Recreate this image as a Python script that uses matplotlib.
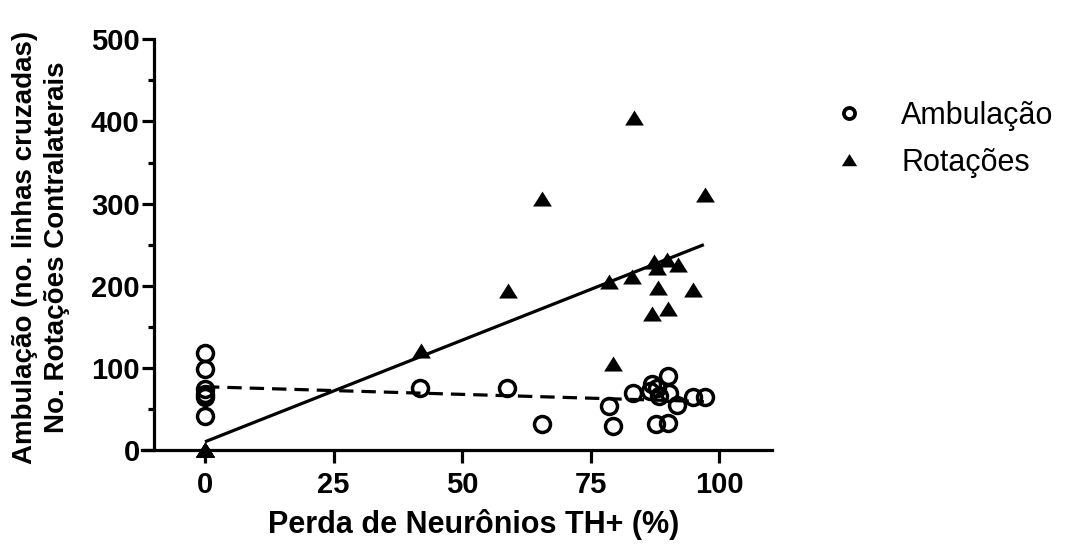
import matplotlib
matplotlib.use("Agg")
import matplotlib.pyplot as plt
from matplotlib.lines import Line2D
from matplotlib.ticker import MultipleLocator

plt.rcParams['font.family'] = ['Liberation Sans', 'DejaVu Sans']

# Ambulação (open circles)
amb_x = [0, 0, 0, 0, 0, 0, 41.9, 58.8, 65.5, 78.6, 79.4, 83.3, 86.5, 87.0, 87.8,
         88.2, 90.1, 90.3, 87.7, 90.0, 91.8, 94.9, 97.2]
amb_y = [118, 99, 74, 68, 64, 42, 75, 75, 32, 54, 29, 69, 72, 80, 76,
         66, 90, 70, 32, 33, 55, 65, 64]

# Rotações (filled triangles)
rot_x = [0, 0, 0, 0, 0, 0, 42.0, 58.9, 65.5, 83.5, 97.2, 78.6, 79.4, 83.1, 87.4,
         87.9, 89.9, 91.9, 88.0, 94.9, 87.0, 90.1]
rot_y = [0, 0, 0, 0, 0, 0, 120, 194, 306, 404, 310, 205, 105, 211, 229,
         221, 231, 225, 197, 195, 165, 172]

# regression lines
rot_fit_x = [0, 97]
rot_fit_y = [10, 250]
amb_fit_x = [0, 97]
amb_fit_y = [77, 59]

xticks = [0, 25, 50, 75, 100]
yticks = [0, 100, 200, 300, 400, 500]

W, H = 1070, 546
fig = plt.figure(figsize=(W / 100, H / 100), dpi=100)
ax = fig.add_axes([142 / W, (H - 450) / H, 630 / W, 410.7 / H])
ax.set_xlim(-12.25, 110.25)
ax.set_ylim(0, 500)

tri = [(-1, -0.75), (1, -0.75), (0, 0.85)]

ax.plot(rot_fit_x, rot_fit_y, color='black', lw=2.3, solid_capstyle='butt', zorder=2)
ax.plot(amb_fit_x, amb_fit_y, color='black', lw=2.3, dashes=(4.5, 2.5), zorder=2)
ax.plot(amb_x, amb_y, linestyle='none', marker='o', ms=11.5, mew=2.5,
        mec='black', mfc='none', clip_on=False, zorder=3)
ax.plot(rot_x, rot_y, linestyle='none', marker=tri, ms=13.5, mew=0,
        color='black', clip_on=False, zorder=3)

for s in ['top', 'right']:
    ax.spines[s].set_visible(False)
ax.spines['left'].set_position(('data', -10))
ax.spines['left'].set_bounds(0, 500)
for s in ['left', 'bottom']:
    ax.spines[s].set_linewidth(2.3)

ax.set_xticks(xticks)
ax.set_yticks(yticks)
ax.yaxis.set_minor_locator(MultipleLocator(50))
ax.tick_params(axis='both', which='major', length=9, width=2.3, direction='out',
               labelsize=21)
ax.tick_params(axis='y', which='minor', length=4.5, width=2.3)
ax.tick_params(axis='x', pad=6)
ax.tick_params(axis='y', pad=1)
for lab in ax.get_xticklabels() + ax.get_yticklabels():
    lab.set_fontweight('bold')

fig.text(474 / W, 1 - 524 / H, 'Perda de Neurônios TH+ (%)', ha='center', va='center',
         fontsize=22, fontweight='bold')
fig.text(41 / W, 1 - 247 / H, 'Ambulação (no. linhas cruzadas)\nNo. Rotações Contralaterais',
         ha='center', va='center', rotation=90, fontsize=20, fontweight='bold',
         multialignment='center', linespacing=1.3)

h1 = Line2D([], [], linestyle='none', marker='o', ms=8, mew=2.7, mec='black', mfc='none')
h2 = Line2D([], [], linestyle='none', marker=tri, ms=11, mew=0, color='black')
fig.legend([h1, h2], ['Ambulação', 'Rotações'], loc='center left',
           bbox_to_anchor=(834 / W, 1 - 139.5 / H), frameon=False, fontsize=22,
           handlelength=1.0, handletextpad=1.2, labelspacing=0.55,
           borderpad=0, borderaxespad=0)

fig.savefig('out.png', dpi=100)
